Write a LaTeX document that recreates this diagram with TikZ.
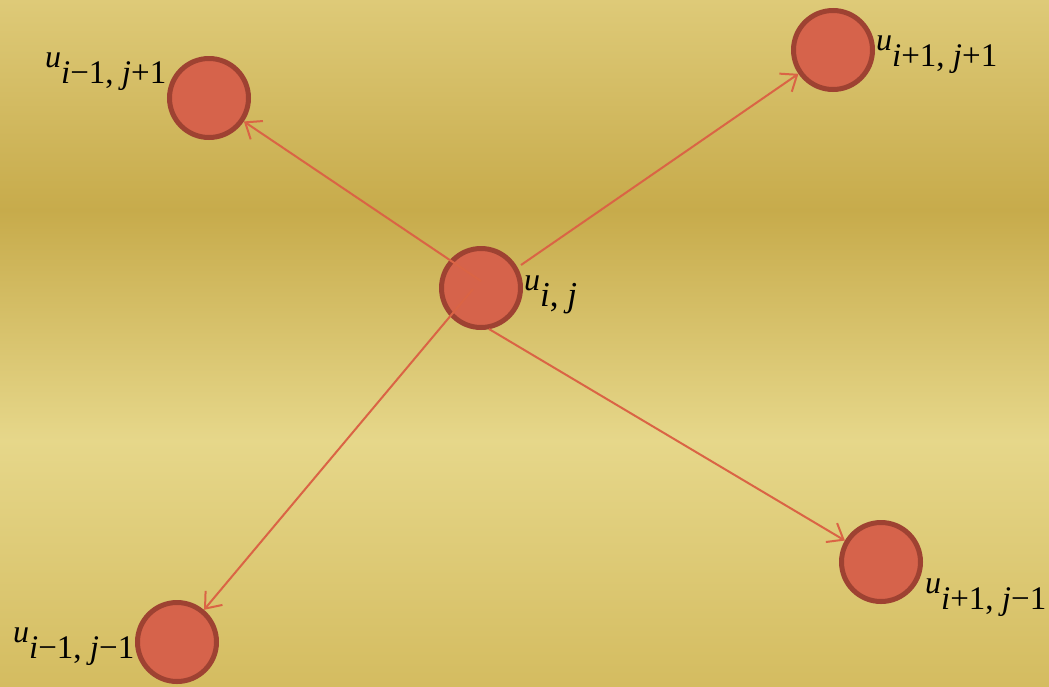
\documentclass[tikz,border=0pt]{standalone}
\usepackage{fontspec}
\setmainfont{Liberation Serif}
\usetikzlibrary{arrows.meta}
\definecolor{bgA}{HTML}{DECA78}
\definecolor{bgB}{HTML}{C7AB4B}
\definecolor{bgC}{HTML}{E6D78A}
\definecolor{bgD}{HTML}{D4BC60}
\definecolor{dotfill}{HTML}{D6634B}
\definecolor{dotline}{HTML}{9E4232}
\definecolor{arrcol}{HTML}{DA6445}
\newcommand\ulab[2][33]{{\fontsize{32}{32}\selectfont\itshape u}\kern0pt\raisebox{-16pt}{\fontsize{#1}{#1}\selectfont #2}}
\tikzset{
  dot/.style={circle, draw=dotline, fill=dotfill, line width=5pt, minimum size=79pt, inner sep=0pt},
  arr/.style={draw=arrcol, line width=2pt, -{Straight Barb[length=14pt,width=22pt,line width=2pt]}},
  lbl/.style={anchor=base west, inner sep=0pt, text=black}
}
\begin{document}
\begin{tikzpicture}[x=1pt,y=-1pt]
\useasboundingbox (0,0) rectangle (1049,686);
\shade[top color=bgA, bottom color=bgB] (0,0) rectangle (1049,211);
\shade[top color=bgB, bottom color=bgC] (0,210) rectangle (1049,441);
\shade[top color=bgC, bottom color=bgD] (0,440) rectangle (1049,686);

\node[dot] (c) at (481,288) {};
\node[dot] (tl) at (209,98) {};
\node[dot] (tr) at (833,50) {};
\node[dot] (br) at (881,562) {};
\node[dot] (bl) at (177,642) {};

\coordinate (stl) at (481,281);
\coordinate (sbl) at (473,289);
\coordinate (str) at (521,265);
\coordinate (sbr) at (489,329);

\draw[arr] (stl) -- (tl);
\draw[arr] (sbl) -- (bl);
\draw[arr] (str) -- (tr);
\draw[arr] (sbr) -- (br);

\node[lbl] (lc) at (524,290) {\ulab[35]{\textit{i}, \textit{j}}};
\node[lbl] (ltr) at (876,50) {\ulab{\textit{i}+1, \textit{j}+1}};
\node[lbl] (lbr) at (925,593) {\ulab{\textit{i}+1, \textit{j}−1}};
\node[lbl] (lbl) at (13,642) {\ulab{\textit{i}−1, \textit{j}−1}};
\node[lbl] (ltl) at (45,67) {\ulab{\textit{i}−1, \textit{j}+1}};
\end{tikzpicture}
\end{document}
